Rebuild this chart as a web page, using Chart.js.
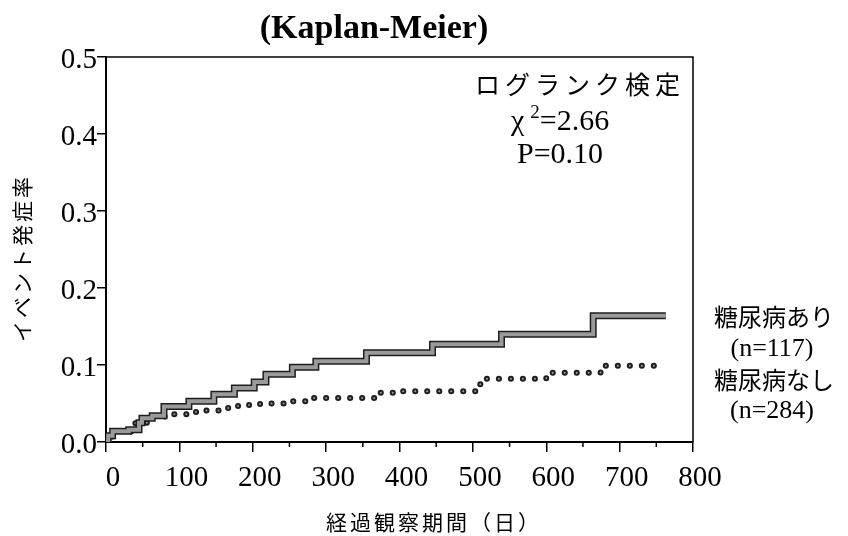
<!DOCTYPE html>
<html>
<head>
<meta charset="utf-8">
<script src="https://cdn.jsdelivr.net/npm/chart.js@4/dist/chart.umd.min.js"></script>
<style>
  html, body { margin: 0; padding: 0; background: #fff; }
  canvas { display: block; }
</style>
</head>
<body>
<canvas id="c" width="848" height="536"></canvas>
<script>
// ---- data ----
const dmTimes   = [0, 3, 9, 31, 45, 49, 63, 79, 113, 147, 175, 202, 218, 254, 286, 355, 445, 539, 664, 763];
const dmRates   = [0.0, 0.008, 0.014, 0.016, 0.025, 0.031, 0.034, 0.046, 0.053, 0.062, 0.070, 0.078, 0.088, 0.097, 0.105, 0.116, 0.127, 0.140, 0.164, 0.164];
const nonTimes  = [0, 3, 10, 40, 60, 90, 115, 135, 165, 180, 195, 210, 255, 280, 370, 402, 505, 512, 600, 674, 758];
const nonRates  = [0.0, 0.007, 0.014, 0.025, 0.033, 0.036, 0.039, 0.041, 0.044, 0.047, 0.049, 0.050, 0.053, 0.057, 0.064, 0.066, 0.075, 0.082, 0.090, 0.099, 0.099];
const xTickValues  = [0, 100, 200, 300, 400, 500, 600, 700, 800];
const xMinorValues = [50, 150, 250, 350, 450, 550, 650, 750];
const yTickValues  = [0.0, 0.1, 0.2, 0.3, 0.4, 0.5];
const seriesNames  = ['糖尿病あり', '糖尿病なし'];
const seriesCounts = ['(n=117)', '(n=284)'];
const titleText  = '(Kaplan-Meier)';
const yTitleText = 'イベント発症率';
const xTitleText = '経過観察期間（日）';
const testName   = 'ログランク検定';
const chiValue   = '2.66';
const pValue     = 'P=0.10';

const toPts = (ts, vs) => ts.map((t, i) => ({ x: t, y: vs[i] }));

const SERIF = "'Liberation Serif', 'Times New Roman', serif";
const JP = "'Noto Sans CJK JP', sans-serif";

const textPlugin = {
  id: 'texts',
  afterDraw(chart) {
    const ctx = chart.ctx;
    const a = chart.chartArea;
    const xs = chart.scales.x;
    ctx.save();
    // minor x ticks
    ctx.strokeStyle = '#000';
    ctx.lineWidth = 1.5;
    xMinorValues.forEach(v => {
      const px = xs.getPixelForValue(v);
      ctx.beginPath();
      ctx.moveTo(px, a.bottom);
      ctx.lineTo(px, a.bottom + 5);
      ctx.stroke();
    });
    // frame top / right
    ctx.beginPath();
    ctx.moveTo(a.left, a.top);
    ctx.lineTo(a.right, a.top);
    ctx.lineTo(a.right, a.bottom);
    ctx.stroke();

    ctx.fillStyle = '#000';
    ctx.textBaseline = 'middle';
    ctx.textAlign = 'center';
    // title
    ctx.font = 'bold 34px ' + SERIF;
    ctx.fillText(titleText, 374, 29);

    // y title
    ctx.save();
    ctx.translate(22, 258);
    ctx.rotate(-Math.PI / 2);
    ctx.font = '21px ' + JP;
    ctx.letterSpacing = '3px';
    ctx.fillText(yTitleText, 0, 0);
    ctx.restore();

    // x title
    ctx.font = '21px ' + JP;
    ctx.letterSpacing = '3px';
    ctx.fillText(xTitleText, 434, 522);
    ctx.letterSpacing = '0px';

    // log-rank test
    ctx.font = '25px ' + JP;
    ctx.letterSpacing = '5px';
    ctx.fillText(testName, 580, 84);
    ctx.letterSpacing = '0px';

    // chi square line
    ctx.textAlign = 'left';
    let x0 = 511;
    ctx.font = '30px ' + SERIF;
    ctx.fillText('χ', x0, 122);
    x0 += ctx.measureText('χ').width + 6;
    ctx.font = '19px ' + SERIF;
    ctx.fillText('2', x0, 113);
    x0 += ctx.measureText('2').width;
    ctx.font = '30px ' + SERIF;
    ctx.fillText('=' + chiValue, x0, 122);

    ctx.textAlign = 'center';
    ctx.fillText(pValue, 560, 155);

    // legend labels
    ctx.font = '24px ' + JP;
    ctx.fillText(seriesNames[0], 774, 317);
    ctx.fillText(seriesNames[1], 774, 380);
    ctx.font = '26px ' + SERIF;
    ctx.fillText(seriesCounts[0], 772, 349);
    ctx.fillText(seriesCounts[1], 772, 411);
    ctx.restore();
  }
};

new Chart(document.getElementById('c'), {
  type: 'line',
  data: {
    datasets: [
      { label: seriesNames[0] + ' inner', data: toPts(dmTimes, dmRates), stepped: 'before',
        borderColor: '#9a9a9a', borderWidth: 4, pointRadius: 0, order: 0, borderJoinStyle: 'miter' },
      { label: seriesNames[0], data: toPts(dmTimes, dmRates), stepped: 'before',
        borderColor: '#1e1e1e', borderWidth: 7, pointRadius: 0, order: 1, borderJoinStyle: 'miter' },
      { label: seriesNames[1] + ' inner', data: toPts(nonTimes, nonRates), stepped: 'before',
        borderColor: '#9a9a9a', borderWidth: 2, pointRadius: 0, order: 2,
        borderDash: [0.1, 11.9], borderCapStyle: 'round' },
      { label: seriesNames[1], data: toPts(nonTimes, nonRates), stepped: 'before',
        borderColor: '#1e1e1e', borderWidth: 6, pointRadius: 0, order: 3,
        borderDash: [0.1, 11.9], borderCapStyle: 'round' }
    ]
  },
  options: {
    responsive: false,
    animation: false,
    devicePixelRatio: 1,
    layout: { padding: { top: 57, right: 155, left: 0, bottom: 0 } },
    plugins: { legend: { display: false }, tooltip: { enabled: false }, title: { display: false } },
    scales: {
      x: {
        type: 'linear', min: 0, max: 800,
        afterBuildTicks: s => { s.ticks = xTickValues.map(v => ({ value: v })); },
        afterFit: s => { s.height = 94; },
        ticks: { font: { family: SERIF, size: 29 }, color: '#000', padding: 9, labelOffset: 7,
                 maxRotation: 0, autoSkip: false },
        grid: { drawOnChartArea: false, drawTicks: true, tickLength: 10, color: '#000', lineWidth: 1.5 },
        border: { display: true, color: '#000', width: 2 }
      },
      y: {
        type: 'linear', min: 0, max: 0.5,
        afterBuildTicks: s => { s.ticks = yTickValues.map(v => ({ value: v })); },
        afterFit: s => { s.width = 106; },
        ticks: { font: { family: SERIF, size: 29 }, color: '#000', padding: 0, labelOffset: 3,
                 callback: v => Number(v).toFixed(1) },
        grid: { drawOnChartArea: false, drawTicks: true, tickLength: 9, color: '#000', lineWidth: 1.5 },
        border: { display: true, color: '#000', width: 2 }
      }
    }
  },
  plugins: [textPlugin]
});
</script>
</body>
</html>
